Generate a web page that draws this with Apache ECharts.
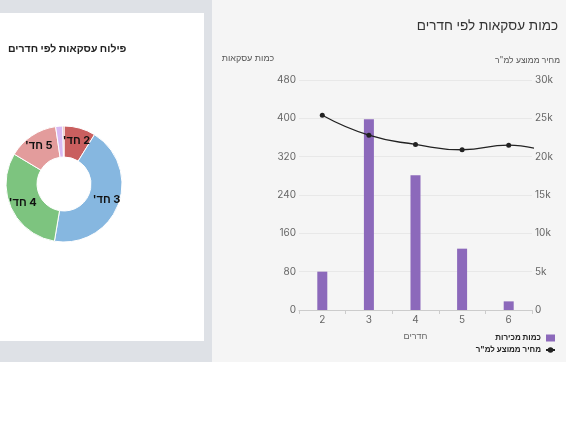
<!DOCTYPE html>
<html>
<head>
<meta charset="utf-8">
<script src="https://cdn.jsdelivr.net/npm/echarts@6/dist/echarts.min.js"></script>
<style>
  html, body { margin: 0; padding: 0; background: #ffffff; }
  #chart { width: 566px; height: 425px; }
</style>
</head>
<body>
<div id="chart"></div>
<script>
// ---- data ----
const rooms = ['2', '3', '4', '5', '6', '7'];
const dealCounts = [80, 398, 281, 128, 18, 3];
const avgPricePerSqm = [25400, 22800, 21600, 20900, 21500, 20300];
const pieLabels = ["2 חד'", "3 חד'", "4 חד'", "5 חד'", "6 חד'", "7 חד'"];
const pieColors = ['#c95f5f', '#86b7e0', '#7dc47f', '#e39c9c', '#d8b9f3', '#cf6a6a'];
const leftTicks = [0, 80, 160, 240, 320, 400, 480];
const rightTicks = [0, 5000, 10000, 15000, 20000, 25000, 30000];

const barName = 'כמות מכירות';
const lineName = 'מחיר ממוצע למ"ר';
const RLM = '\u200F';
const FONT = 'Inter, "Liberation Sans", "DejaVu Sans", sans-serif';

const chart = echarts.init(document.getElementById('chart'), null, { renderer: 'canvas' });

const pieData = rooms.map((r, i) => ({
  name: pieLabels[i],
  value: dealCounts[i],
  itemStyle: { color: pieColors[i] }
}));

chart.setOption({
  animation: false,
  textStyle: { fontFamily: FONT },
  graphic: [
    { type: 'rect', z: -10, silent: true, shape: { x: 0, y: 0, width: 212, height: 362 }, style: { fill: '#dee1e6' } },
    { type: 'rect', z: -9, silent: true, shape: { x: 0, y: 13, width: 204, height: 328 }, style: { fill: '#ffffff' } },
    { type: 'rect', z: -9, silent: true, shape: { x: 212, y: 0, width: 354, height: 362 }, style: { fill: '#f5f5f5' } }
  ],
  title: [
    {
      text: 'כמות עסקאות לפי חדרים',
      right: 3, top: 14,
      textStyle: { fontSize: 13.5, fontWeight: 'normal', color: '#333', fontFamily: FONT }
    },
    {
      text: 'פילוח עסקאות לפי חדרים',
      left: 3, top: 38,
      textStyle: { fontSize: 10.5, fontWeight: 'bold', color: '#222', fontFamily: FONT }
    }
  ],
  legend: {
    data: [{ name: barName, icon: 'rect' }, { name: lineName }],
    orient: 'vertical',
    align: 'right',
    right: 5,
    top: 329,
    itemWidth: 9,
    itemHeight: 7,
    itemGap: 4,
    textStyle: { fontSize: 8, fontWeight: 'bold', color: '#222', fontFamily: FONT }
  },
  grid: { left: 299, right: 34, top: 80, bottom: 115, containLabel: false },
  xAxis: {
    type: 'category',
    data: rooms,
    max: 4,
    name: 'חדרים',
    nameLocation: 'middle',
    nameGap: 22,
    nameTextStyle: { color: '#666', fontSize: 9 },
    axisLine: { lineStyle: { color: '#cccccc' } },
    axisTick: { show: true, length: 4, lineStyle: { color: '#cccccc' } },
    axisLabel: { color: '#666', fontSize: 10, margin: 5 }
  },
  yAxis: [
    {
      type: 'value',
      min: leftTicks[0], max: leftTicks[leftTicks.length - 1], interval: leftTicks[1] - leftTicks[0],
      name: 'כמות עסקאות',
      nameLocation: 'end',
      nameGap: 17,
      nameTextStyle: { color: '#555', fontSize: 9, align: 'center', padding: [0, 102, 0, 0] },
      axisLine: { show: false },
      axisTick: { show: false },
      axisLabel: { color: '#666', fontSize: 10, margin: 3 },
      splitLine: { lineStyle: { color: '#e8e8e8' } }
    },
    {
      type: 'value',
      position: 'right',
      min: rightTicks[0], max: rightTicks[rightTicks.length - 1], interval: rightTicks[1] - rightTicks[0],
      name: lineName,
      nameLocation: 'end',
      nameGap: 15,
      nameTextStyle: { color: '#555', fontSize: 8.5, align: 'center', padding: [0, 9, 0, 0] },
      axisLine: { show: false },
      axisTick: { show: false },
      axisLabel: { color: '#666', fontSize: 10, margin: 3, formatter: v => v === 0 ? '0' : (v / 1000) + 'k' },
      splitLine: { show: false }
    }
  ],
  series: [
    {
      name: barName,
      type: 'bar',
      yAxisIndex: 0,
      data: dealCounts,
      barWidth: 10,
      clip: true,
      itemStyle: { color: '#8c69bb' }
    },
    {
      name: lineName,
      type: 'line',
      yAxisIndex: 1,
      data: avgPricePerSqm,
      smooth: 0.5,
      clip: true,
      symbol: 'circle',
      symbolSize: 5,
      lineStyle: { color: '#222', width: 1.3 },
      itemStyle: { color: '#222' },
      z: 5
    },
    {
      name: 'pie',
      type: 'pie',
      center: [64, 184],
      radius: [27, 58],
      startAngle: 90,
      data: pieData,
      itemStyle: { borderColor: '#ffffff', borderWidth: 1 },
      label: {
        show: true,
        position: 'inside',
        fontSize: 11,
        fontWeight: 'bold',
        color: '#111',
        fontFamily: FONT,
        formatter: p => p.percent >= 5 ? RLM + p.name + RLM : ''
      },
      labelLine: { show: false }
    }
  ]
});
</script>
</body>
</html>
